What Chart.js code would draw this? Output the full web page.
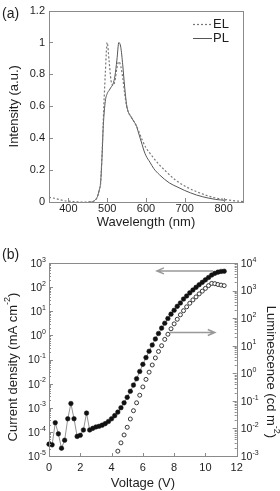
<!DOCTYPE html>
<html>
<head>
<meta charset="utf-8">
<script src="https://cdn.jsdelivr.net/npm/chart.js@4.4.0/dist/chart.umd.min.js"></script>
<style>
  html, body { margin: 0; padding: 0; background: #fff; }
  #wrap { position: relative; width: 280px; height: 491px; }
  #wrap canvas { position: absolute; left: 0; }
</style>
</head>
<body>
<div id="wrap">
  <canvas id="specChart" width="280" height="240" style="top:0"></canvas>
  <canvas id="jvlChart" width="280" height="251" style="top:240px"></canvas>
</div>
<script>
// ---- panel (a): EL / PL spectra ----
const elWavelength = [350, 360, 370, 380, 390, 400, 410, 420, 440, 460, 470, 475, 480, 483, 487, 490, 495, 500, 505, 510, 515, 520, 525, 530, 535, 540, 545, 550, 555, 560, 565, 570, 580, 590, 600, 615, 630, 650, 675, 700, 730, 775, 815, 850];
const elIntensity  = [0.03, 0.025, 0.02, 0.013, 0.008, 0.005, 0.003, 0.001, 0, 0.002, 0.012, 0.035, 0.08, 0.12, 0.32, 0.52, 0.8, 1.0, 0.88, 0.76, 0.73, 0.76, 0.84, 0.88, 0.85, 0.78, 0.68, 0.6, 0.56, 0.54, 0.52, 0.5, 0.45, 0.39, 0.34, 0.29, 0.245, 0.195, 0.14, 0.1, 0.065, 0.028, 0.012, 0.002];
const plWavelength = [452, 460, 465, 470, 475, 480, 483, 487, 490, 495, 500, 505, 510, 515, 520, 525, 530, 535, 540, 545, 550, 555, 560, 565, 570, 575, 580, 585, 590, 595, 600, 610, 620, 635, 660, 680, 700, 730, 760, 780, 805];
const plIntensity  = [0, 0, 0.005, 0.015, 0.035, 0.08, 0.12, 0.3, 0.48, 0.63, 0.68, 0.7, 0.72, 0.74, 0.79, 0.89, 1.0, 0.97, 0.86, 0.72, 0.61, 0.56, 0.54, 0.52, 0.5, 0.48, 0.44, 0.4, 0.36, 0.32, 0.29, 0.25, 0.21, 0.17, 0.12, 0.095, 0.072, 0.044, 0.025, 0.016, 0.01];
const specXTicks = [400, 500, 600, 700, 800];
const specYTicks = [0, 0.2, 0.4, 0.6, 0.8, 1, 1.2];

// ---- panel (b): J-V-L ----
const jVoltage = [0, 0.2, 0.4, 0.6, 0.8, 1.0, 1.2, 1.4, 1.6, 1.8, 2.0, 2.2, 2.4, 2.6, 2.8, 3.0, 3.2, 3.4, 3.6, 3.8, 4.0, 4.2, 4.4, 4.6, 4.8, 5.0, 5.2, 5.4, 5.6, 5.8, 6.0, 6.2, 6.4, 6.6, 6.8, 7.0, 7.2, 7.4, 7.6, 7.8, 8.0, 8.2, 8.4, 8.6, 8.8, 9.0, 9.2, 9.4, 9.6, 9.8, 10.0, 10.2, 10.4, 10.6, 10.8, 11.0, 11.2];
const currentDensity = [3.1e-5, 2.9e-5, 2.4e-4, 8.3e-5, 2.1e-5, 4.5e-5, 3.5e-4, 1.5e-3, 3.5e-4, 6.5e-5, 7.2e-5, 1.2e-4, 6.0e-4, 1.2e-4, 1.4e-4, 1.6e-4, 1.7e-4, 1.9e-4, 2.2e-4, 2.7e-4, 3.5e-4, 4.7e-4, 6.6e-4, 1.0e-3, 1.6e-3, 2.7e-3, 4.8e-3, 8.7e-3, 1.6e-2, 3.2e-2, 6.3e-2, 0.12, 0.22, 0.40, 0.71, 1.2, 2.0, 3.2, 5.0, 7.6, 11, 16, 22, 32, 43, 58, 76, 98, 126, 158, 200, 251, 316, 372, 417, 447, 457];
const lumVoltage = [4.4, 4.6, 4.8, 5.0, 5.2, 5.4, 5.6, 5.8, 6.0, 6.2, 6.4, 6.6, 6.8, 7.0, 7.2, 7.4, 7.6, 7.8, 8.0, 8.2, 8.4, 8.6, 8.8, 9.0, 9.2, 9.4, 9.6, 9.8, 10.0, 10.2, 10.4, 10.6, 10.8, 11.0, 11.2];
const luminance = [1.5e-3, 3.0e-3, 5.8e-3, 1.1e-2, 2.2e-2, 4.4e-2, 8.5e-2, 0.16, 0.32, 0.60, 1.1, 2.0, 3.6, 6.2, 10, 17, 26, 41, 62, 91, 132, 186, 257, 347, 457, 589, 759, 955, 1200, 1510, 1820, 1780, 1660, 1580, 1510];
const voltTicks = [0, 2, 4, 6, 8, 10, 12];
const jTicks = [1e-5, 1e-4, 1e-3, 1e-2, 1e-1, 1, 1e1, 1e2, 1e3];
const lumTicks = [1e-3, 1e-2, 1e-1, 1, 1e1, 1e2, 1e3, 1e4];
// arrows: voltage range and level on the axis they point to
const jArrow = { from: 10.5, to: 6.9, level: 470 };
const lumArrow = { from: 7.7, to: 10.6, level: 30 };

const FONT = '"Liberation Sans", Arial, sans-serif';
const TEXT = '#1e1e1e';
const AXIS = '#8a8a8a';

Chart.defaults.font.family = FONT;
Chart.defaults.color = TEXT;

function pts(xs, ys) {
  return xs.map((x, i) => ({ x: x, y: ys[i] }));
}

// text with a superscript part, anchored left / right / center
function supText(ctx, base, sup, tail, x, y, size, anchor) {
  const bigF = size + 'px ' + FONT;
  const smallF = Math.round(size * 0.7) + 'px ' + FONT;
  ctx.font = bigF;
  const wb = ctx.measureText(base).width;
  const wt = tail ? ctx.measureText(tail).width : 0;
  ctx.font = smallF;
  const ws = ctx.measureText(sup).width;
  const total = wb + ws + wt;
  let left = x;
  if (anchor === 'right') left = x - total;
  if (anchor === 'center') left = x - total / 2;
  ctx.textAlign = 'left';
  ctx.textBaseline = 'middle';
  ctx.font = bigF;
  ctx.fillText(base, left, y);
  ctx.font = smallF;
  ctx.fillText(sup, left + wb, y - size * 0.4);
  if (tail) {
    ctx.font = bigF;
    ctx.fillText(tail, left + wb + ws, y);
  }
}

function frame(ctx, a) {
  ctx.strokeStyle = AXIS;
  ctx.lineWidth = 1;
  ctx.strokeRect(Math.round(a.left) + 0.5, Math.round(a.top) + 0.5,
    Math.round(a.right - a.left), Math.round(a.bottom - a.top));
}

const hiddenAxis = {
  grid: { display: false, drawTicks: false },
  border: { display: false }
};

// ---------- chart (a) ----------
const specPlugin = {
  id: 'specDecor',
  afterDraw(chart) {
    const { ctx, chartArea: a, scales } = chart;
    ctx.save();
    frame(ctx, a);
    ctx.beginPath();
    specXTicks.forEach(v => {
      const x = Math.round(scales.x.getPixelForValue(v)) + 0.5;
      ctx.moveTo(x, a.bottom); ctx.lineTo(x, a.bottom - 4);
    });
    specYTicks.forEach(v => {
      const y = Math.round(scales.y.getPixelForValue(v)) + 0.5;
      ctx.moveTo(a.left, y); ctx.lineTo(a.left + 4, y);
    });
    ctx.stroke();

    ctx.fillStyle = TEXT;
    ctx.textBaseline = 'middle';
    ctx.textAlign = 'center';
    ctx.font = '13px ' + FONT;
    ctx.fillText('Wavelength (nm)', (a.left + a.right) / 2, 222);
    ctx.save();
    ctx.translate(14, (a.top + a.bottom) / 2);
    ctx.rotate(-Math.PI / 2);
    ctx.fillText('Intensity (a.u.)', 0, 0);
    ctx.restore();
    ctx.textAlign = 'left';
    ctx.font = '14px ' + FONT;
    ctx.fillText('(a)', 2, 14);

    // legend
    const lx = a.right - 50;
    ctx.lineWidth = 1.2;
    ctx.strokeStyle = '#777';
    ctx.setLineDash([2, 2]);
    ctx.beginPath(); ctx.moveTo(lx, 24.5); ctx.lineTo(lx + 19, 24.5); ctx.stroke();
    ctx.setLineDash([]);
    ctx.lineWidth = 1;
    ctx.strokeStyle = '#555';
    ctx.beginPath(); ctx.moveTo(lx, 38.5); ctx.lineTo(lx + 19, 38.5); ctx.stroke();
    ctx.font = '13px ' + FONT;
    ctx.fillText('EL', lx + 20, 24);
    ctx.fillText('PL', lx + 20, 38);
    ctx.restore();
  }
};

new Chart(document.getElementById('specChart'), {
  type: 'scatter',
  data: {
    datasets: [
      {
        label: 'EL',
        data: pts(elWavelength, elIntensity),
        showLine: true,
        borderColor: '#777',
        borderWidth: 1.2,
        borderDash: [2, 2],
        pointRadius: 0,
        cubicInterpolationMode: 'monotone',
        clip: false
      },
      {
        label: 'PL',
        data: pts(plWavelength, plIntensity),
        showLine: true,
        borderColor: '#555',
        borderWidth: 1,
        pointRadius: 0,
        cubicInterpolationMode: 'monotone',
        clip: false
      }
    ]
  },
  options: {
    responsive: false,
    animation: false,
    layout: { padding: { left: 0, right: 37, top: 7, bottom: 0 } },
    plugins: { legend: { display: false }, tooltip: { enabled: false } },
    scales: {
      x: Object.assign({}, hiddenAxis, {
        type: 'linear', min: 350, max: 850,
        afterBuildTicks: s => { s.ticks = specXTicks.map(v => ({ value: v })); },
        afterFit: s => { s.height = 38; },
        ticks: { font: { size: 11 }, padding: 0, maxRotation: 0, callback: v => String(v) }
      }),
      y: Object.assign({}, hiddenAxis, {
        type: 'linear', min: 0, max: 1.2,
        afterBuildTicks: s => { s.ticks = specYTicks.map(v => ({ value: v })); },
        afterFit: s => { s.width = 49; },
        ticks: { font: { size: 11 }, padding: 4, callback: v => String(v) }
      })
    }
  },
  plugins: [specPlugin]
});

// ---------- chart (b) ----------
function logTicks(ctx, scale, list, xEdge, dir) {
  ctx.beginPath();
  list.forEach((v, i) => {
    const y = Math.round(scale.getPixelForValue(v)) + 0.5;
    ctx.moveTo(xEdge, y); ctx.lineTo(xEdge + dir * 4, y);
    if (i < list.length - 1) {
      for (let m = 2; m <= 9; m++) {
        const ym = Math.round(scale.getPixelForValue(v * m)) + 0.5;
        ctx.moveTo(xEdge, ym); ctx.lineTo(xEdge + dir * 2, ym);
      }
    }
  });
  ctx.stroke();
}

function arrow(ctx, x1, x2, y) {
  const dir = x2 > x1 ? 1 : -1;
  ctx.beginPath();
  ctx.moveTo(x1, y); ctx.lineTo(x2, y);
  ctx.moveTo(x2 - dir * 7, y - 3); ctx.lineTo(x2, y); ctx.lineTo(x2 - dir * 7, y + 3);
  ctx.stroke();
}

const jvlPlugin = {
  id: 'jvlDecor',
  afterDraw(chart) {
    const { ctx, chartArea: a, scales } = chart;
    ctx.save();
    frame(ctx, a);
    ctx.strokeStyle = AXIS;
    ctx.lineWidth = 1;
    logTicks(ctx, scales.y, jTicks, a.left, 1);
    logTicks(ctx, scales.y2, lumTicks, a.right, -1);
    ctx.beginPath();
    voltTicks.forEach(v => {
      const x = Math.round(scales.x.getPixelForValue(v)) + 0.5;
      ctx.moveTo(x, a.bottom); ctx.lineTo(x, a.bottom - 3);
    });
    ctx.stroke();

    // arrows
    ctx.strokeStyle = '#999';
    ctx.lineWidth = 1.5;
    arrow(ctx, scales.x.getPixelForValue(jArrow.from), scales.x.getPixelForValue(jArrow.to),
      scales.y.getPixelForValue(jArrow.level));
    arrow(ctx, scales.x.getPixelForValue(lumArrow.from), scales.x.getPixelForValue(lumArrow.to),
      scales.y2.getPixelForValue(lumArrow.level));

    // tick labels 10^n
    ctx.fillStyle = TEXT;
    jTicks.forEach(v => {
      const y = scales.y.getPixelForValue(v);
      supText(ctx, '10', String(Math.round(Math.log10(v))), '', 46, y + 1, 10.5, 'right');
    });
    lumTicks.forEach(v => {
      const y = scales.y2.getPixelForValue(v);
      supText(ctx, '10', String(Math.round(Math.log10(v))), '', a.right + 4, y + 1, 10.5, 'left');
    });

    // titles
    ctx.textAlign = 'center';
    ctx.textBaseline = 'middle';
    ctx.font = '13px ' + FONT;
    ctx.fillText('Voltage (V)', (a.left + a.right) / 2, 243);
    ctx.save();
    ctx.translate(13, 127);
    ctx.rotate(-Math.PI / 2);
    supText(ctx, 'Current density (mA cm', '-2', ')', 0, 0, 13, 'center');
    ctx.restore();
    ctx.save();
    ctx.translate(271, 132);
    ctx.rotate(Math.PI / 2);
    supText(ctx, 'Luminescence (cd m', '-2', ')', 0, 0, 13, 'center');
    ctx.restore();
    ctx.textAlign = 'left';
    ctx.font = '14px ' + FONT;
    ctx.fillText('(b)', 2, 15);
    ctx.restore();
  }
};

new Chart(document.getElementById('jvlChart'), {
  type: 'scatter',
  data: {
    datasets: [
      {
        label: 'Current density',
        data: pts(jVoltage, currentDensity),
        yAxisID: 'y',
        showLine: true,
        borderColor: '#777',
        borderWidth: 0.8,
        pointRadius: 2.3,
        pointBackgroundColor: '#111',
        pointBorderColor: '#111',
        pointBorderWidth: 0.5,
        clip: false
      },
      {
        label: 'Luminescence',
        data: pts(lumVoltage, luminance),
        yAxisID: 'y2',
        showLine: false,
        pointRadius: 2,
        pointBackgroundColor: '#fff',
        pointBorderColor: '#222',
        pointBorderWidth: 0.9,
        clip: false
      }
    ]
  },
  options: {
    responsive: false,
    animation: false,
    layout: { padding: { left: 0, right: 0, top: 23, bottom: 0 } },
    plugins: { legend: { display: false }, tooltip: { enabled: false } },
    scales: {
      x: Object.assign({}, hiddenAxis, {
        type: 'linear', min: 0, max: 12,
        afterBuildTicks: s => { s.ticks = voltTicks.map(v => ({ value: v })); },
        afterFit: s => { s.height = 35; },
        ticks: { font: { size: 11 }, padding: 5, maxRotation: 0, callback: v => String(v) }
      }),
      y: Object.assign({}, hiddenAxis, {
        type: 'logarithmic', position: 'left', min: 1e-5, max: 1e3,
        afterFit: s => { s.width = 49; },
        ticks: { display: false }
      }),
      y2: Object.assign({}, hiddenAxis, {
        type: 'logarithmic', position: 'right', min: 1e-3, max: 1e4,
        afterFit: s => { s.width = 43.3; },
        ticks: { display: false }
      })
    }
  },
  plugins: [jvlPlugin]
});
</script>
</body>
</html>
